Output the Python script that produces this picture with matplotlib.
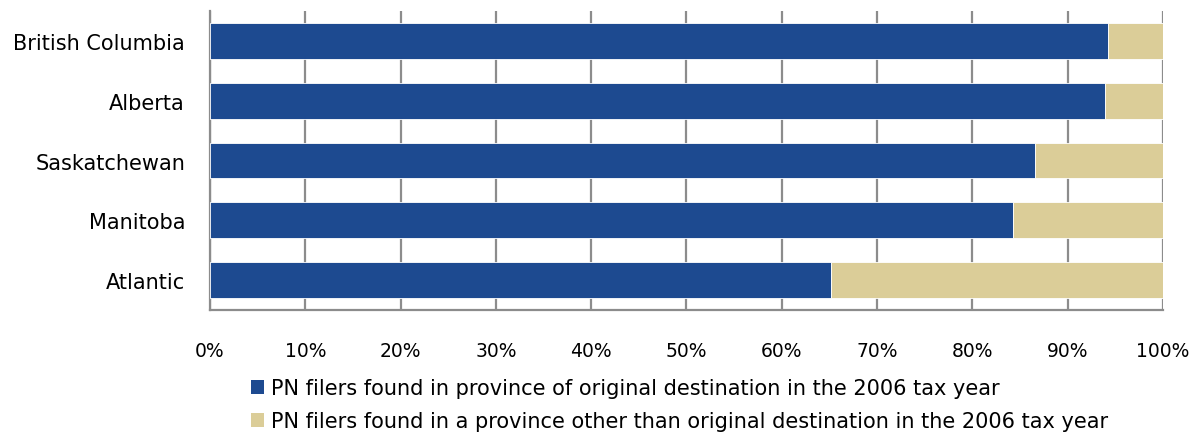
import matplotlib.pyplot as plt
from matplotlib.patches import Patch

# Share of PN filers by region (percent)
regions = ["British Columbia", "Alberta", "Saskatchewan", "Manitoba", "Atlantic"]
same_province = [94.2, 93.9, 86.6, 84.3, 65.2]
other_province = [100 - v for v in same_province]

series_labels = [
    "PN filers found in province of original destination in the 2006 tax year",
    "PN filers found in a province other than original destination in the 2006 tax year",
]
xticks = list(range(0, 101, 10))
xtick_labels = [f"{t}%" for t in xticks]

BLUE = "#1d4a90"
TAN = "#dbcd98"
GRID = "#8c8c8c"

plt.rcParams["font.family"] = ["DejaVu Sans"]

fig = plt.figure(figsize=(11.94, 4.35), dpi=100)
ax = fig.add_axes([0.1759, 0.285, 0.974 - 0.1759, 0.9724 - 0.285])

y = list(range(len(regions)))[::-1]
ax.barh(y, same_province, height=0.6, color=BLUE, edgecolor="white", linewidth=0.6, zorder=3)
ax.barh(y, other_province, left=same_province, height=0.6, color=TAN,
        edgecolor="white", linewidth=0.6, zorder=3)

ax.set_xlim(0, 100)
ax.set_ylim(-0.5, len(regions) - 0.5)
ax.set_yticks(y)
ax.set_yticklabels(regions, fontsize=15)
ax.set_xticks(xticks)
ax.set_xticklabels(xtick_labels, fontsize=13.5)
ax.tick_params(axis="both", length=0)
ax.tick_params(axis="y", pad=18)
ax.tick_params(axis="x", pad=22)

ax.grid(axis="x", color=GRID, linewidth=1.6, zorder=0)
for side in ("top", "right"):
    ax.spines[side].set_visible(False)
for side in ("left", "bottom"):
    ax.spines[side].set_color(GRID)
    ax.spines[side].set_linewidth(1.6)

handles = [Patch(facecolor=BLUE), Patch(facecolor=TAN)]
fig.legend(handles, series_labels, loc="upper left", bbox_to_anchor=(0.2105, 0.128),
           frameon=False, fontsize=15, handlelength=0.6, handleheight=0.6,
           handletextpad=0.35, labelspacing=0.62, borderaxespad=0, borderpad=0)

fig.savefig("out.png", dpi=100)
